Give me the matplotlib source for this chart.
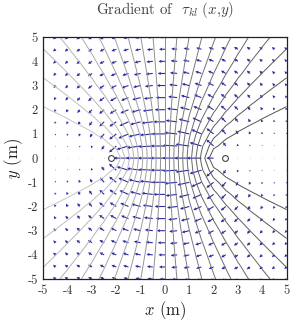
import numpy as np
import matplotlib.pyplot as plt

plt.rcParams['font.family'] = ['cmr10', 'DejaVu Serif']
plt.rcParams['mathtext.fontset'] = 'cm'
plt.rcParams['axes.unicode_minus'] = False

# sensor positions (m) and where the two sensor symbols are drawn
sensor_x = [-2.0, 2.0]
sensor_y = [0.0, 0.0]
marker_x = [-2.23, 2.47]
marker_y = [0.0, 0.0]
tick_vals = [-5, -4, -3, -2, -1, 0, 1, 2, 3, 4, 5]
tick_labels = ['-5', '-4', '-3', '-2', '-1', '0', '1', '2', '3', '4', '5']
grid_step = 0.5
n_levels = 21

# sampled TDOA field (difference of distances) on the arrow grid
g = np.arange(-5, 5 + grid_step / 2, grid_step)
X, Y = np.meshgrid(g, g)
dL = np.hypot(X - sensor_x[0], Y - sensor_y[0])
dR = np.hypot(X - sensor_x[1], Y - sensor_y[1])
tau = dR - dL
gy, gx = np.gradient(tau, grid_step)

levels = np.linspace(tau.min(), tau.max(), n_levels + 2)[1:-1]

fig = plt.figure(figsize=(2.93, 3.23), dpi=100)
ax = fig.add_axes([0.148, 0.136, 0.830, 0.749])

ax.contour(X, Y, tau, levels=levels, cmap='gray', vmin=-9, vmax=7.5, linewidths=0.7)
ax.quiver(X, Y, gx, gy, color='#2a2aa0', angles='xy', scale_units='xy', scale=3.3,
          width=0.0045, headwidth=3, headlength=3, headaxislength=2.6, minlength=0.5)
ax.plot(marker_x, marker_y, 'o', ms=4.2, mfc='white', mec='#444444', mew=0.8)

ax.set_xlim(-5, 5)
ax.set_ylim(-5, 5)
ax.set_xticks(tick_vals)
ax.set_xticklabels(tick_labels)
ax.set_yticks(tick_vals)
ax.set_yticklabels(tick_labels)
ax.tick_params(labelsize=9, length=0, pad=4, colors='#333333')
for s in ax.spines.values():
    s.set_linewidth(0.9)
    s.set_color('#222222')

ax.set_xlabel(r'$x$ (m)', fontsize=12, color='#222222', labelpad=2)
ax.set_ylabel(r'$y$ (m)', fontsize=12, color='#222222', labelpad=2)
ax.set_title(r'Gradient of  $\tau_{kl}\ (x{,}y)$', fontsize=10.8, color='#444444', pad=17)

fig.savefig('out.png', dpi=100)
